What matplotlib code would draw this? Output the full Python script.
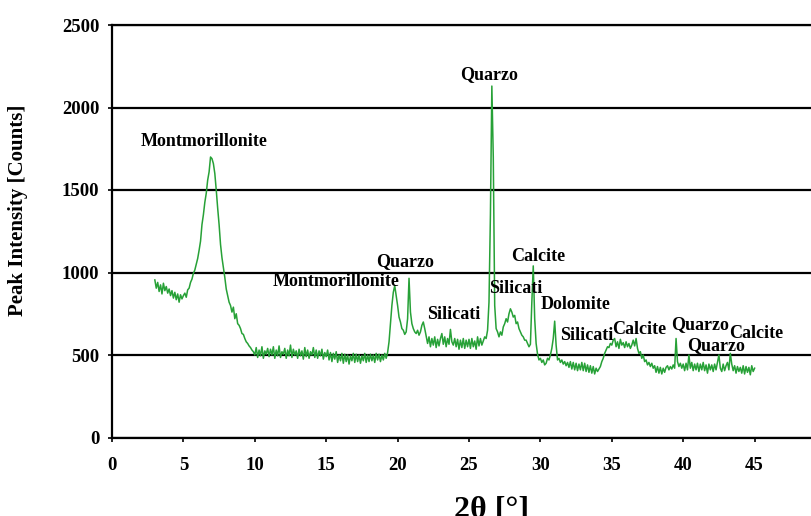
import numpy as np
import matplotlib
matplotlib.use("Agg")
import matplotlib.pyplot as plt

plt.rcParams['font.family'] = ['Liberation Serif', 'DejaVu Serif']
plt.rcParams['font.weight'] = 'bold'

# 2-theta scan, 3.0 to 45.0 deg in 0.1 deg steps
two_theta = np.round(np.arange(3.0, 45.01, 0.1), 2)

# counts, one row per degree
counts = [
    955, 905, 940, 885, 925, 870, 935, 890, 915, 875,        # 3
    900, 860, 890, 845, 880, 835, 870, 820, 865, 840,        # 4
    860, 875, 850, 895, 905, 940, 960, 995, 1015, 1050,      # 5
    1085, 1135, 1190, 1290, 1350, 1425, 1480, 1560, 1610, 1700,  # 6
    1690, 1660, 1600, 1500, 1390, 1290, 1170, 1090, 1030, 970,   # 7
    900, 860, 820, 800, 760, 790, 720, 750, 690, 680,        # 8
    660, 630, 625, 600, 580, 570, 555, 545, 530, 520,        # 9
    500, 545, 485, 530, 495, 550, 480, 525, 505, 540,        # 10
    490, 535, 500, 550, 480, 530, 495, 555, 485, 520,        # 11
    505, 540, 480, 530, 495, 560, 485, 535, 500, 525,        # 12
    480, 535, 495, 525, 475, 545, 490, 530, 480, 520,        # 13
    500, 545, 485, 530, 480, 525, 495, 535, 475, 515,        # 14
    490, 530, 470, 515, 460, 510, 475, 520, 455, 500,        # 15
    465, 510, 450, 505, 460, 500, 445, 495, 465, 510,        # 16
    455, 505, 460, 500, 450, 495, 465, 510, 455, 500,        # 17
    460, 505, 465, 500, 455, 510, 470, 505, 460, 500,        # 18
    470, 510, 480, 515, 580, 690, 800, 880, 920, 860,        # 19
    800, 730, 700, 660, 650, 625, 640, 720, 965, 760,        # 20
    690, 660, 640, 630, 650, 620, 640, 680, 700, 660,        # 21
    615, 570, 610, 550, 600, 560, 610, 545, 595, 555,        # 22
    600, 630, 565, 610, 550, 600, 565, 655, 580, 560,        # 23
    600, 550, 595, 535, 590, 545, 600, 540, 590, 550,        # 24
    595, 540, 600, 550, 585, 535, 610, 555, 600, 560,        # 25
    585, 610, 600, 650, 820, 1350, 2130, 1700, 800, 660,     # 26
    640, 610, 640, 620, 670, 690, 720, 700, 750, 780,        # 27
    760, 730, 740, 690, 700, 660, 640, 620, 610, 590,        # 28
    590, 570, 550, 565, 820, 1040, 720, 570, 505, 470,       # 29
    480, 455, 470, 440, 450, 480, 470, 500, 540, 600,        # 30
    705, 560, 470, 480, 455, 470, 445, 460, 435, 455,        # 31
    425, 460, 415, 455, 410, 450, 405, 445, 410, 455,        # 32
    405, 450, 400, 440, 395, 435, 390, 430, 385, 420,        # 33
    400, 415, 430, 460, 480, 510, 530, 550, 545, 570,        # 34
    560, 590, 600, 550, 580, 540, 595, 560, 575, 545,        # 35
    580, 550, 570, 540, 560, 590, 555, 600, 540, 510,        # 36
    520, 480, 500, 460, 470, 440, 455, 430, 450, 420,        # 37
    435, 395, 430, 390, 425, 385, 420, 395, 425, 435,        # 38
    410, 430, 415, 440, 420, 600, 460, 430, 450, 420,        # 39
    445, 405, 450, 410, 500, 420, 455, 405, 445, 410,        # 40
    450, 400, 445, 410, 455, 405, 440, 390, 445, 410,        # 41
    440, 400, 445, 410, 455, 500, 420, 400, 445, 405,        # 42
    435, 455, 410, 510, 445, 405, 435, 390, 430, 400,        # 43
    425, 390, 435, 385, 430, 395, 425, 380, 435, 400,        # 44
    420,                                                     # 45
]

# phase labels and where they sit
phase_names = ['Montmorillonite', 'Quarzo', 'Montmorillonite', 'Quarzo',
               'Silicati', 'Silicati', 'Calcite', 'Dolomite', 'Silicati',
               'Calcite', 'Quarzo', 'Quarzo', 'Calcite']
phase_x = [6.45, 26.4, 15.7, 20.5, 23.9, 28.25, 29.85, 32.45, 33.25,
           36.9, 41.2, 42.3, 45.1]
phase_y = [1795, 2197, 948, 1064, 748, 906, 1094, 809, 621,
           655, 682, 560, 630]

fig = plt.figure(figsize=(8.12, 5.16), dpi=100)
ax = fig.add_axes([112 / 812, 78.5 / 516, (826 - 112) / 812, 412.5 / 516])

ax.plot(two_theta, counts, color='#27a137', lw=1.1)

for name, x, y in zip(phase_names, phase_x, phase_y):
    ax.text(x, y, name, ha='center', va='center', fontsize=13,
            fontweight='bold')

ax.set_xlim(0, 50)
ax.set_ylim(0, 2500)
ax.set_xticks(range(0, 50, 5))
ax.set_yticks(range(0, 2501, 500))
ax.yaxis.grid(True, color='black', lw=1.6)
ax.set_axisbelow(True)
for side in ['left', 'bottom', 'top']:
    ax.spines[side].set_linewidth(1.6)
ax.spines['right'].set_visible(False)
ax.tick_params(axis='both', labelsize=13.5, width=1.2, length=3)
ax.tick_params(axis='x', pad=11)
ax.tick_params(axis='y', pad=6)

fig.text(18 / 812, 1 - 210 / 516, 'Peak Intensity [Counts]', rotation=90,
         ha='center', va='center', fontsize=15, fontweight='bold')
fig.text(492 / 812, -2 / 516, '2θ [°]', ha='center', va='baseline',
         fontsize=23, fontweight='bold')

fig.savefig('out.png', dpi=100)
